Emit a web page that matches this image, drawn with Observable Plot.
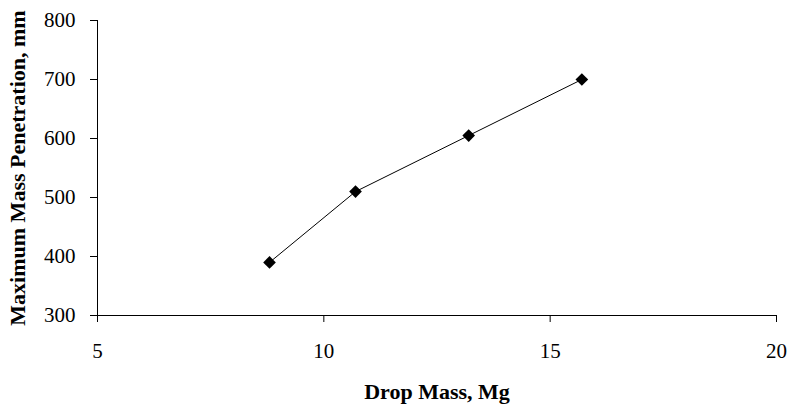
<!DOCTYPE html>
<html>
<head>
<meta charset="utf-8">
<script src="https://cdn.jsdelivr.net/npm/d3@7"></script>
<script src="https://cdn.jsdelivr.net/npm/@observablehq/plot@0.6"></script>
<style>
  html, body { margin: 0; padding: 0; background: #fff; }
  #chart svg { display: block; }
</style>
</head>
<body>
<div id="chart"></div>
<script>
const dropMass = [8.8, 10.7, 13.2, 15.7];
const penetration = [390, 510, 605, 700];
const xTicks = [5, 10, 15, 20];
const yTicks = [300, 400, 500, 600, 700, 800];

const data = dropMass.map((x, i) => ({x, y: penetration[i]}));
const font = "'Liberation Serif', 'Times New Roman', serif";

const chart = Plot.plot({
  width: 789,
  height: 404,
  marginLeft: 97,
  marginRight: 13,
  marginTop: 20,
  marginBottom: 89,
  style: {fontFamily: font, fontSize: "21px", color: "#000", background: "#fff"},
  x: {domain: [5, 20]},
  y: {domain: [300, 800]},
  marks: [
    Plot.ruleX([5], {stroke: "#000", strokeWidth: 1}),
    Plot.ruleY([300], {stroke: "#000", strokeWidth: 1}),
    Plot.axisX({ticks: xTicks, tickSize: 7, tickPadding: 21, tickFormat: d => String(d),
      label: null, fontSize: 21, stroke: "#000"}),
    Plot.axisY({ticks: yTicks, tickSize: 7, tickPadding: 15, tickFormat: d => String(d),
      label: null, fontSize: 21, stroke: "#000"}),
    Plot.axisX({ticks: [], tickSize: 0,
      label: "Drop Mass, Mg", labelAnchor: "center", labelArrow: "none", labelOffset: 83,
      fontSize: 22, fontWeight: "bold"}),
    Plot.axisY({ticks: [], tickSize: 0,
      label: "Maximum Mass Penetration, mm", labelAnchor: "center", labelArrow: "none", labelOffset: 88,
      fontSize: 22, fontWeight: "bold"}),
    Plot.line(data, {x: "x", y: "y", stroke: "#000", strokeWidth: 1}),
    Plot.dot(data, {x: "x", y: "y", symbol: "diamond2", fill: "#000", r: 5.7})
  ]
});
document.getElementById("chart").appendChild(chart);
chart.querySelectorAll("g[aria-label='x-axis tick label'], g[aria-label='y-axis tick label']").forEach(g => {
  g.setAttribute("font-size", "21");
  g.style.fontSize = "21px";
});
chart.querySelectorAll("g[aria-label='x-axis label'] text, g[aria-label='y-axis label'] text").forEach(t => {
  t.setAttribute("font-weight", "bold");
  t.style.fontSize = "22px";
});
</script>
</body>
</html>
